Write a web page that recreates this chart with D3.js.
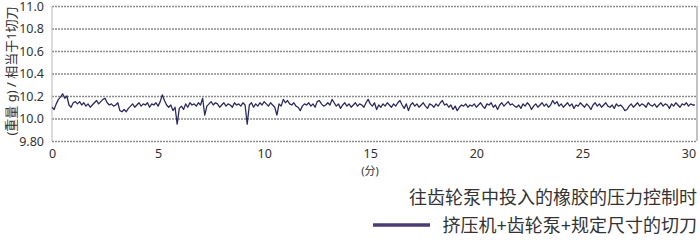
<!DOCTYPE html>
<html>
<head>
<meta charset="utf-8">
<script src="https://cdn.jsdelivr.net/npm/d3@7"></script>
<style>
  body { margin: 0; background: #fff; }
  text { font-family: "Noto Sans", "Noto Sans CJK SC", sans-serif; }
</style>
</head>
<body>
<script>
// weight per cutter, sampled every 0.1 min (one row = one minute)
let stepMin = 0.1;
let weights = [
  10.10,10.08,10.13,10.17,10.19,10.22,10.18,10.20,10.12,10.10,
  10.14,10.15,10.13,10.15,10.12,10.14,10.11,10.13,10.10,10.12,
  10.14,10.16,10.13,10.15,10.17,10.18,10.14,10.12,10.13,10.11,
  10.12,10.14,10.07,10.06,10.08,10.06,10.09,10.11,10.13,10.10,
  10.12,10.14,10.11,10.13,10.12,10.14,10.10,10.13,10.12,10.14,
  10.11,10.15,10.21,10.16,10.12,10.10,10.12,10.07,10.10,9.95,
  10.09,10.11,10.08,10.13,10.10,10.14,10.12,10.13,10.11,10.14,
  10.12,10.18,10.03,10.11,10.13,10.15,10.12,10.14,10.13,10.10,
  10.12,10.14,10.11,10.13,10.12,10.10,10.14,10.12,10.13,10.11,
  10.14,10.12,9.95,10.12,10.14,10.10,10.13,10.11,10.14,10.12,
  10.15,10.13,10.11,10.14,10.12,10.10,10.03,10.13,10.11,10.17,
  10.14,10.16,10.13,10.12,10.14,10.11,10.10,10.07,10.11,10.13,
  10.12,10.14,10.11,10.13,10.10,10.15,10.16,10.13,10.11,10.12,
  10.14,10.12,10.17,10.14,10.11,10.13,10.09,10.12,10.14,10.11,
  10.13,10.10,10.12,10.14,10.11,10.13,10.12,10.10,10.14,10.17,
  10.13,10.11,10.14,10.08,10.12,10.10,10.13,10.11,10.14,10.12,
  10.10,10.13,10.11,10.14,10.16,10.12,10.09,10.13,10.07,10.12,
  10.14,10.11,10.13,10.10,10.12,10.14,10.11,10.09,10.13,10.12,
  10.10,10.13,10.11,10.14,10.16,10.12,10.13,10.10,10.12,10.08,
  10.11,10.07,10.10,10.12,10.11,10.13,10.10,10.12,10.11,10.13,
  10.10,10.12,10.14,10.11,10.09,10.13,10.12,10.14,10.10,10.12,
  10.08,10.12,10.14,10.11,10.13,10.15,10.12,10.13,10.11,10.10,
  10.12,10.09,10.13,10.11,10.14,10.12,10.08,10.11,10.13,10.10,
  10.12,10.14,10.11,10.13,10.10,10.12,10.16,10.13,10.15,10.11,
  10.13,10.10,10.12,10.14,10.11,10.13,10.09,10.12,10.11,10.14,
  10.12,10.10,10.13,10.11,10.08,10.12,10.14,10.11,10.13,10.10,
  10.12,10.14,10.11,10.10,10.12,10.09,10.13,10.11,10.12,10.10,
  10.07,10.08,10.11,10.13,10.10,10.12,10.14,10.11,10.13,10.12,
  10.10,10.14,10.12,10.11,10.13,10.10,10.12,10.14,10.11,10.13,
  10.12,10.09,10.13,10.11,10.14,10.12,10.10,10.13,10.12,10.14,
  10.11,10.13,10.12,10.12
];

let yTicks = [9.8, 10.0, 10.2, 10.4, 10.6, 10.8, 11.0];
let yTickLabels = ['9.80', '10.0', '10.2', '10.4', '10.6', '10.8', '11.0'];
let xTicks = [0, 5, 10, 15, 20, 25, 30];
let yTitle = '(重量 g) / 相当于1切刀';
let xTitle = '(分)';
let legendTitle = '往齿轮泵中投入的橡胶的压力控制时';
let seriesName = '挤压机+齿轮泵+规定尺寸的切刀';

let w = 700;
let h = 241;
let plotL = 52, plotR = 697, plotT = 6, plotB = 141;

let svg = d3.select('body').append('svg').attr('width', w).attr('height', h);

let x = d3.scaleLinear().domain([0, 30.4]).range([plotL, plotR]);
let y = d3.scaleLinear().domain([9.8, 11.0]).range([plotB, plotT]);

// gridlines
svg.append('g')
    .attr('transform', `translate(${plotL},0)`)
    .call(d3.axisLeft(y).tickValues(yTicks).tickSize(-(plotR - plotL)).tickFormat(''))
    .call(g => g.select('.domain').remove())
    .call(g => g.selectAll('line')
        .attr('stroke', '#8c8c8c')
        .attr('stroke-width', 1.3)
        .attr('stroke-dasharray', '2,1'));

// frame sides
svg.append('line')
    .attr('x1', plotL).attr('x2', plotL).attr('y1', plotT).attr('y2', plotB)
    .attr('stroke', '#b5b5b5').attr('stroke-width', 1);
svg.append('line')
    .attr('x1', plotR).attr('x2', plotR).attr('y1', plotT).attr('y2', plotB)
    .attr('stroke', '#9a9a9a').attr('stroke-width', 1.2);

// y tick labels
svg.append('g')
    .attr('transform', `translate(${plotL},0)`)
    .call(d3.axisLeft(y).tickValues(yTicks).tickSize(0).tickPadding(8)
        .tickFormat((d, i) => yTickLabels[i]))
    .call(g => g.select('.domain').remove())
    .call(g => g.selectAll('text')
        .attr('font-size', '12.5px')
        .attr('font-family', '"Noto Sans", sans-serif')
        .attr('fill', '#333'));

// x tick labels
svg.append('g')
    .attr('transform', `translate(0,${plotB})`)
    .call(d3.axisBottom(x).tickValues(xTicks).tickSize(0).tickPadding(8))
    .call(g => g.select('.domain').remove())
    .call(g => g.selectAll('text')
        .attr('font-size', '12.5px')
        .attr('font-family', '"Noto Sans", sans-serif')
        .attr('fill', '#333'));

// series line
let line = d3.line()
    .x((d, i) => x(i * stepMin))
    .y(d => y(d));

svg.append('path')
    .datum(weights)
    .attr('d', line)
    .attr('fill', 'none')
    .attr('stroke', '#2c2a62')
    .attr('stroke-width', 1.3)
    .attr('stroke-linejoin', 'round');

// axis titles
svg.append('text')
    .text(xTitle)
    .attr('x', 370).attr('y', 175)
    .attr('text-anchor', 'middle')
    .attr('font-size', '11px')
    .attr('fill', '#333');

svg.append('text')
    .text(yTitle)
    .attr('transform', 'translate(16,71) rotate(-90)')
    .attr('text-anchor', 'middle')
    .attr('font-size', '13px')
    .attr('fill', '#333');

// legend
svg.append('text')
    .text(legendTitle)
    .attr('x', 697).attr('y', 204)
    .attr('text-anchor', 'end')
    .attr('font-size', '18px')
    .attr('fill', '#333');

svg.append('line')
    .attr('x1', 373).attr('x2', 430).attr('y1', 225).attr('y2', 225)
    .attr('stroke', '#4a3a7a').attr('stroke-width', 3.5);

svg.append('text')
    .text(seriesName)
    .attr('x', 697).attr('y', 232)
    .attr('text-anchor', 'end')
    .attr('font-size', '18px')
    .attr('fill', '#333');
</script>
</body>
</html>
